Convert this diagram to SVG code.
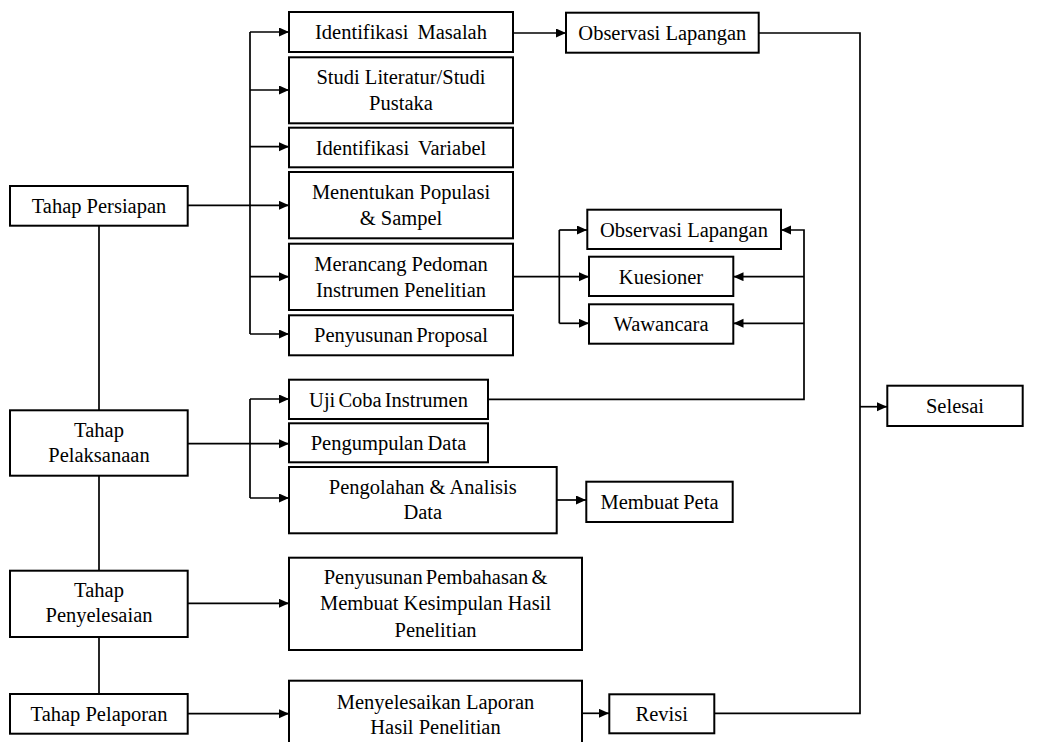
<svg xmlns="http://www.w3.org/2000/svg" width="1057" height="742" viewBox="0 0 1057 742">
<style>
.box{fill:#fff;stroke:#000;stroke-width:2}
.ln{fill:none;stroke:#000;stroke-width:1.7}
.ar{marker-end:url(#ah)}
text{font-family:'Liberation Serif','Tinos','Times New Roman','DejaVu Serif','Noto Serif',serif;font-size:20.5px;fill:#000;text-anchor:middle}
</style>
<defs>
<marker id="ah" markerUnits="userSpaceOnUse" markerWidth="11" markerHeight="10" refX="10" refY="4.5" orient="auto">
<path d="M0,0 L10,4.5 L0,9 z" fill="#000"/>
</marker>
</defs>
<rect width="1057" height="742" fill="#fff"/>
<g id="connectors">
<path class="ln" d="M99,225 V694"/>
<path class="ln ar" d="M188,205.3 H289"/>
<path class="ln" d="M250,32 V334"/>
<path class="ln ar" d="M250,32 H289"/>
<path class="ln ar" d="M250,90 H289"/>
<path class="ln ar" d="M250,146.7 H289"/>
<path class="ln ar" d="M250,276.7 H289"/>
<path class="ln ar" d="M250,334 H289"/>
<path class="ln ar" d="M513,33 H566"/>
<path class="ln" d="M759,33 H860 V713.3 H714"/>
<path class="ln ar" d="M860,406.7 H887"/>
<path class="ln ar" d="M513,276.7 H589"/>
<path class="ln" d="M559.3,230 V323.3"/>
<path class="ln ar" d="M559.3,230 H587"/>
<path class="ln ar" d="M559.3,323.3 H589"/>
<path class="ln ar" d="M488,399.3 H804 V230 H781"/>
<path class="ln ar" d="M804,276.7 H733.5"/>
<path class="ln ar" d="M804,323.3 H733.5"/>
<path class="ln ar" d="M188,443.7 H289"/>
<path class="ln" d="M250,399 V498"/>
<path class="ln ar" d="M250,399 H289"/>
<path class="ln ar" d="M250,498 H289"/>
<path class="ln ar" d="M557,500 H586"/>
<path class="ln ar" d="M188,603.3 H289"/>
<path class="ln ar" d="M188,713.7 H289"/>
<path class="ln ar" d="M582,713.3 H609"/>
</g>
<g id="tahap-persiapan"><rect class="box" x="10" y="186" width="177.7" height="39.7"/><text x="99" y="213">Tahap Persiapan</text></g>
<g id="tahap-pelaksanaan"><rect class="box" x="10" y="410.3" width="177.7" height="65.4"/><text x="99" y="436.5">Tahap</text><text x="99" y="461.5">Pelaksanaan</text></g>
<g id="tahap-penyelesaian"><rect class="box" x="10" y="570.7" width="177.7" height="66.3"/><text x="99" y="596.5">Tahap</text><text x="99" y="622">Penyelesaian</text></g>
<g id="tahap-pelaporan"><rect class="box" x="10" y="694" width="177.7" height="39.7"/><text x="99" y="721">Tahap Pelaporan</text></g>
<g id="identifikasi-masalah"><rect class="box" x="289" y="12" width="224" height="40"/><text x="401" y="39" word-spacing="4">Identifikasi Masalah</text></g>
<g id="studi-literatur"><rect class="box" x="289" y="57.3" width="224" height="66"/><text x="401" y="83.5">Studi Literatur/Studi</text><text x="401" y="109.5">Pustaka</text></g>
<g id="identifikasi-variabel"><rect class="box" x="289" y="127.7" width="224" height="39.6"/><text x="401" y="154.5" word-spacing="4">Identifikasi Variabel</text></g>
<g id="menentukan-populasi"><rect class="box" x="289" y="172" width="224" height="66.3"/><text x="401" y="199">Menentukan Populasi</text><text x="401" y="225">&amp; Sampel</text></g>
<g id="merancang-pedoman"><rect class="box" x="289" y="243.7" width="224" height="66.3"/><text x="401" y="270.5">Merancang Pedoman</text><text x="401" y="296.5">Instrumen Penelitian</text></g>
<g id="penyusunan-proposal"><rect class="box" x="289" y="315.3" width="224" height="40"/><text x="401" y="342" word-spacing="-2">Penyusunan Proposal</text></g>
<g id="observasi-lapangan-1"><rect class="box" x="566" y="12.7" width="192.7" height="40"/><text x="662.3" y="40">Observasi Lapangan</text></g>
<g id="observasi-lapangan-2"><rect class="box" x="587.3" y="209.7" width="193.7" height="39.3"/><text x="684" y="236.5">Observasi Lapangan</text></g>
<g id="kuesioner"><rect class="box" x="589" y="256.7" width="144.3" height="39.3"/><text x="661" y="283.5">Kuesioner</text></g>
<g id="wawancara"><rect class="box" x="589" y="304.3" width="144.3" height="39.4"/><text x="661" y="331">Wawancara</text></g>
<g id="uji-coba"><rect class="box" x="289" y="379.7" width="199" height="39.3"/><text x="388.5" y="406.5" word-spacing="-2">Uji Coba Instrumen</text></g>
<g id="pengumpulan-data"><rect class="box" x="289" y="423.3" width="199" height="39"/><text x="388.5" y="450" word-spacing="-1">Pengumpulan Data</text></g>
<g id="pengolahan"><rect class="box" x="289" y="467" width="267.7" height="66.3"/><text x="422.8" y="493.5">Pengolahan &amp; Analisis</text><text x="422.8" y="518.5">Data</text></g>
<g id="membuat-peta"><rect class="box" x="586.3" y="481.7" width="146.4" height="40.3"/><text x="659.5" y="508.5" word-spacing="-1">Membuat Peta</text></g>
<g id="penyusunan-pembahasan"><rect class="box" x="289" y="557.7" width="293" height="92.3"/><text x="435.5" y="583.5" word-spacing="-2">Penyusunan Pembahasan &amp;</text><text x="435.5" y="610">Membuat Kesimpulan Hasil</text><text x="435.5" y="636.5">Penelitian</text></g>
<g id="menyelesaikan-laporan"><rect class="box" x="289" y="680.7" width="293" height="70"/><text x="435.5" y="708.5">Menyelesaikan Laporan</text><text x="435.5" y="733.5">Hasil Penelitian</text></g>
<g id="revisi"><rect class="box" x="609.3" y="694.3" width="105" height="39"/><text x="661.8" y="721">Revisi</text></g>
<g id="selesai"><rect class="box" x="887.3" y="385.7" width="135.4" height="40.3"/><text x="955" y="412.5">Selesai</text></g>
</svg>
